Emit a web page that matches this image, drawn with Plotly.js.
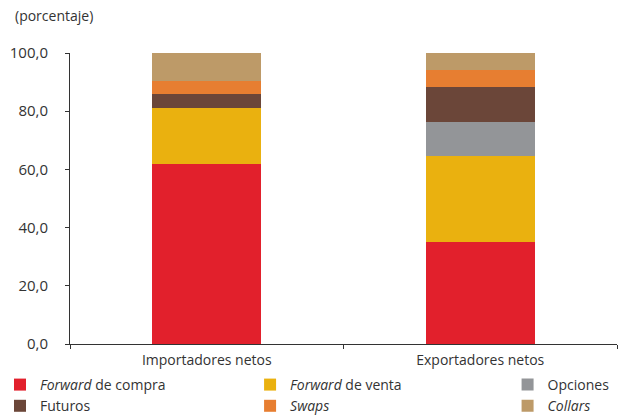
<!DOCTYPE html>
<html><head><meta charset="utf-8">
<script src="https://cdn.plot.ly/plotly-3.0.1.min.js"></script>
<style>body{margin:0;padding:0;background:#fff}#c{width:619px;height:416px}</style>
</head><body><div id="c"></div>
<script>
const categories = ["Importadores netos", "Exportadores netos"];
const seriesNames = ["<i>Forward</i> de compra", "<i>Forward</i> de venta", "Opciones", "Futuros", "<i>Swaps</i>", "<i>Collars</i>"];
const forwardCompra = [61.9, 35.1];
const forwardVenta = [19.1, 29.6];
const opciones = [0.0, 11.7];
const futuros = [4.8, 11.8];
const swaps = [4.7, 6.1];
const collars = [9.5, 5.7];
const yTicks = [0, 20, 40, 60, 80, 100];

const values = [forwardCompra, forwardVenta, opciones, futuros, swaps, collars];
const colors = ["#E2202C", "#EAB10F", "#939598", "#6B4639", "#E77E31", "#BD9A68"];
const legendIds = ["legend", "legend2", "legend3", "legend", "legend2", "legend3"];

const traces = values.map((v, i) => ({
  type: "bar", x: categories, y: v, name: seriesNames[i],
  marker: {color: colors[i], line: {width: 0}},
  width: 0.4, legend: legendIds[i], hoverinfo: "y+name"
}));

const fam = "'Open Sans', sans-serif";
const font = {family: fam, size: 14, color: "#333"};
const legBase = {orientation: "v", xanchor: "left", yanchor: "top", yref: "container", xref: "container",
  bgcolor: "rgba(0,0,0,0)", font: {family: fam, size: 14, color: "#333"}, tracegroupgap: 0, traceorder: "normal", itemwidth: 30};

const layout = {
  width: 619, height: 416,
  margin: {l: 70, r: 2, t: 53, b: 72, autoexpand: false},
  barmode: "stack",
  separators: ",.",
  font: font,
  plot_bgcolor: "#fff", paper_bgcolor: "#fff",
  showlegend: true,
  xaxis: {showline: true, linecolor: "#333", linewidth: 1, ticks: "outside", tickson: "boundaries",
    ticklen: 4, tickcolor: "#333", showgrid: false, zeroline: false, tickangle: 0, automargin: false,
    ticklabelstandoff: 3, tickfont: {size: 14, color: "#333"}},
  yaxis: {range: [0, 100], tickvals: yTicks, tickformat: ".1f", showline: true, linecolor: "#333", linewidth: 1,
    ticks: "outside", ticklen: 4, tickcolor: "#333", showgrid: false, zeroline: false, automargin: false,
    ticklabelstandoff: 14, tickfont: {size: 15, color: "#333"}},
  legend: Object.assign({}, legBase, {x: 0, y: 0.113}),
  legend2: Object.assign({}, legBase, {x: 0.404, y: 0.113}),
  legend3: Object.assign({}, legBase, {x: 0.82, y: 0.113}),
  annotations: [{text: "(porcentaje)", xref: "paper", yref: "paper", x: -0.105, y: 1.09, xanchor: "left", yanchor: "bottom",
    showarrow: false, font: {size: 14, color: "#333"}}]
};

Plotly.newPlot("c", traces, layout, {displayModeBar: false, staticPlot: true});
</script></body></html>
